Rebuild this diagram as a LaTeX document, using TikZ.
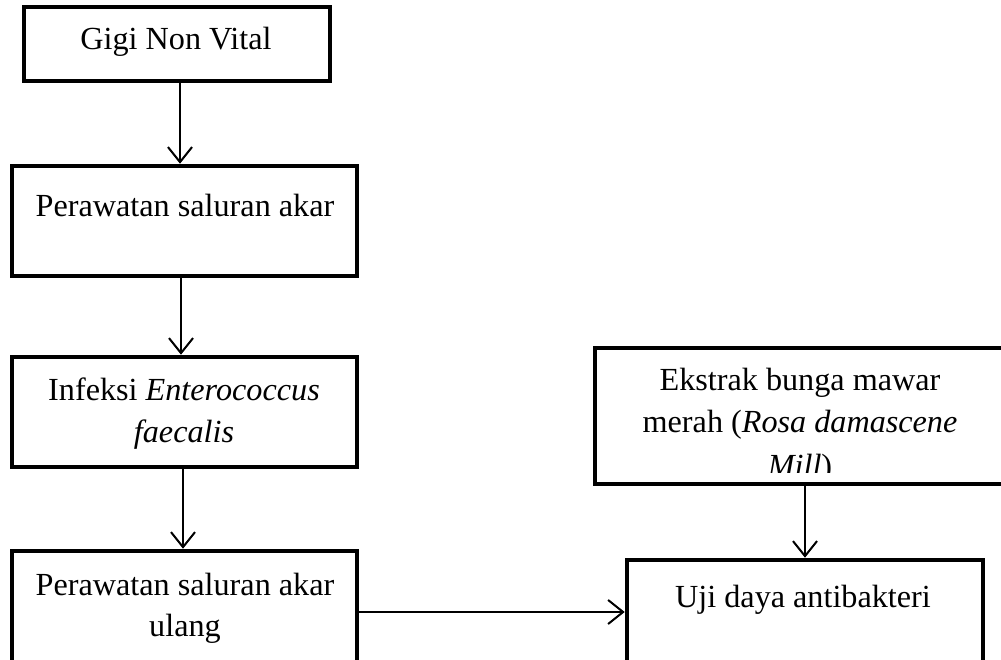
\documentclass[tikz,border=0pt]{standalone}
\usepackage{fontspec}
\setmainfont{Liberation Serif}
\usetikzlibrary{arrows.meta}
\begin{document}
\begin{tikzpicture}[x=1pt,y=-1pt,
  box/.style={draw,line width=4.6pt,line join=miter,inner sep=0pt},
  arr/.style={line width=2pt,-{Straight Barb[length=15pt,width=24pt]}},
  txt/.style={anchor=base,inner sep=0pt,font=\fontsize{32.2}{40}\selectfont}]
\useasboundingbox (0,0) rectangle (1001,660);
\clip (0,0) rectangle (1001,660);
% boxes
\node[box,minimum width=306pt,minimum height=74pt] (b1) at (177,44) {};
\node[box,minimum width=345pt,minimum height=110pt] (b2) at (184.5,221) {};
\node[box,minimum width=345pt,minimum height=110pt] (b3) at (184.5,412) {};
\node[box,minimum width=345pt,minimum height=149pt] (b4) at (184.5,625.5) {};
\node[box,minimum width=435pt,minimum height=136pt] (b5) at (812.5,416) {};
\node[box,minimum width=356pt,minimum height=140pt] (b6) at (805,630) {};
% texts
\node[txt] (t1) at (176,50) {Gigi Non Vital};
\node[txt] (t2) at (185,217) {Perawatan saluran akar};
\node[txt] (t3a) at (184,400) {Infeksi \textit{Enterococcus}};
\node[txt] (t3b) at (184,442) {\textit{faecalis}};
\node[txt] (t4a) at (185,595) {Perawatan saluran akar};
\node[txt] (t4b) at (185,636) {ulang};
\begin{scope}
\clip (595,348) rectangle (1001,472);
\node[txt] (t5a) at (800,390) {Ekstrak bunga mawar};
\node[txt] (t5b) at (800,432) {merah (\textit{Rosa damascene}};
\node[txt] (t5c) at (800,476) {\textit{Mill})};
\end{scope}
\node[txt] (t6) at (803,607) {Uji daya antibakteri};
% connectors
\draw[arr] ([xshift=3pt]b1.south) -- ([xshift=3pt]b1.south |- b2.north);
\draw[arr] ([xshift=-3.5pt]b2.south) -- ([xshift=-3.5pt]b2.south |- b3.north);
\draw[arr] ([xshift=-1.5pt]b3.south) -- ([xshift=-1.5pt]b3.south |- b4.north);
\draw[arr] (b5.south -| b6.north) -- (b6.north);
\draw[arr] ([yshift=13.5pt]b4.east) -- ([yshift=13.5pt]b4.east -| b6.west);
\end{tikzpicture}
\end{document}
